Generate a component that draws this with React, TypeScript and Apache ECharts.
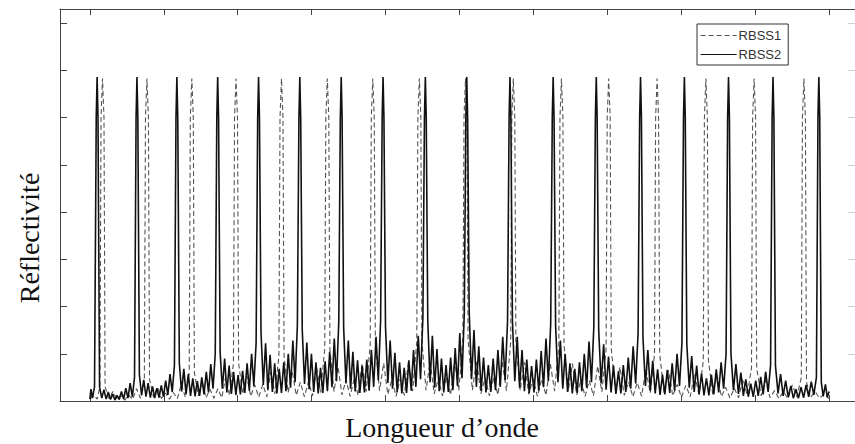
import React, { useEffect, useRef } from "react";
import * as echarts from "echarts";

// x axis: arbitrary wavelength units, ticks every 10 units (no labels shown)
const xTickValues = [0, 10, 20, 30, 40, 50, 60, 70, 80, 90, 100];
const yTickValues = [0.1, 0.2, 0.3, 0.4, 0.5, 0.6, 0.7, 0.8];
const X_MIN = -4.04;
const X_MAX = 103.5;
const Y_MIN = 0;
const Y_MAX = 0.83;

const seriesNames = ["RBSS1", "RBSS2"];

// RBSS2 (solid) Bragg peaks: shoulder, top, shoulder  [wavelength, reflectivity]
const rbss2Peaks: number[][] = [
  [0.86, 0.6], [0.98, 0.686], [1.1, 0.6],
  [6.25, 0.6], [6.37, 0.686], [6.49, 0.6],
  [11.65, 0.6], [11.77, 0.686], [11.89, 0.6],
  [17.17, 0.6], [17.29, 0.686], [17.41, 0.6],
  [22.7, 0.6], [22.82, 0.686], [22.94, 0.6],
  [28.28, 0.6], [28.4, 0.686], [28.52, 0.6],
  [33.88, 0.6], [34.0, 0.686], [34.12, 0.6],
  [39.54, 0.6], [39.66, 0.686], [39.78, 0.6],
  [45.26, 0.6], [45.38, 0.686], [45.5, 0.6],
  [50.86, 0.6], [50.98, 0.686], [51.1, 0.6],
  [56.71, 0.6], [56.83, 0.686], [56.95, 0.6],
  [62.55, 0.6], [62.67, 0.686], [62.79, 0.6],
  [68.38, 0.6], [68.5, 0.686], [68.62, 0.6],
  [74.37, 0.6], [74.49, 0.686], [74.61, 0.6],
  [80.3, 0.6], [80.42, 0.686], [80.54, 0.6],
  [86.27, 0.6], [86.39, 0.686], [86.51, 0.6],
  [92.29, 0.6], [92.41, 0.686], [92.53, 0.6],
  [98.49, 0.6], [98.61, 0.686], [98.73, 0.6],
];

// RBSS2 side-lobe floor between peaks
const rbss2Floor: number[][] = [
  [0.0, 0.004], [0.15, 0.025], [0.35, 0.006], [0.63, 0.03],
  [1.31, 0.03], [1.61, 0.006], [1.9, 0.024], [2.2, 0.004], [2.49, 0.019], [2.79, 0.003], [3.09, 0.015], [3.38, 0.002], [3.68, 0.012], [3.97, 0.003], [4.27, 0.02], [4.57, 0.004], [4.86, 0.027], [5.16, 0.006], [5.45, 0.038], [5.75, 0.009], [6.04, 0.05],
  [6.7, 0.055], [7.0, 0.012], [7.29, 0.045], [7.59, 0.009], [7.88, 0.038], [8.18, 0.007], [8.48, 0.031], [8.77, 0.006], [9.07, 0.027], [9.36, 0.007], [9.66, 0.033], [9.96, 0.009], [10.25, 0.043], [10.55, 0.013], [10.84, 0.057], [11.14, 0.019], [11.44, 0.076],
  [12.1, 0.08], [12.4, 0.02], [12.71, 0.068], [13.01, 0.014], [13.32, 0.057], [13.62, 0.011], [13.92, 0.048], [14.23, 0.01], [14.53, 0.042], [14.84, 0.011], [15.14, 0.05], [15.44, 0.014], [15.75, 0.062], [16.05, 0.018], [16.36, 0.078], [16.66, 0.026], [16.96, 0.1],
  [17.62, 0.104], [17.92, 0.026], [18.23, 0.09], [18.53, 0.018], [18.84, 0.075], [19.14, 0.015], [19.44, 0.062], [19.75, 0.013], [20.05, 0.055], [20.36, 0.014], [20.66, 0.064], [20.96, 0.017], [21.27, 0.08], [21.57, 0.022], [21.88, 0.1], [22.18, 0.032], [22.49, 0.123],
  [23.15, 0.146], [23.46, 0.034], [23.77, 0.122], [24.07, 0.024], [24.38, 0.098], [24.69, 0.019], [25.0, 0.08], [25.3, 0.016], [25.61, 0.068], [25.92, 0.017], [26.23, 0.082], [26.53, 0.021], [26.84, 0.1], [27.15, 0.028], [27.46, 0.128], [27.76, 0.04], [28.07, 0.16],
  [28.73, 0.15], [29.04, 0.036], [29.35, 0.124], [29.66, 0.025], [29.97, 0.1], [30.28, 0.019], [30.58, 0.082], [30.89, 0.016], [31.2, 0.07], [31.51, 0.017], [31.82, 0.084], [32.13, 0.021], [32.44, 0.104], [32.75, 0.029], [33.06, 0.132], [33.36, 0.042], [33.67, 0.167],
  [34.33, 0.155], [34.64, 0.037], [34.96, 0.128], [35.27, 0.026], [35.58, 0.104], [35.89, 0.02], [36.21, 0.086], [36.52, 0.017], [36.83, 0.074], [37.14, 0.018], [37.46, 0.088], [37.77, 0.022], [38.08, 0.108], [38.39, 0.03], [38.71, 0.136], [39.02, 0.044], [39.33, 0.17],
  [39.99, 0.157], [40.31, 0.038], [40.62, 0.128], [40.94, 0.026], [41.26, 0.102], [41.57, 0.019], [41.89, 0.082], [42.2, 0.016], [42.52, 0.07], [42.84, 0.017], [43.15, 0.086], [43.47, 0.022], [43.78, 0.108], [44.1, 0.03], [44.42, 0.138], [44.73, 0.046], [45.05, 0.178],
  [45.71, 0.17], [46.02, 0.04], [46.33, 0.138], [46.64, 0.028], [46.95, 0.11], [47.26, 0.021], [47.56, 0.09], [47.87, 0.018], [48.18, 0.076], [48.49, 0.019], [48.8, 0.092], [49.11, 0.023], [49.42, 0.112], [49.73, 0.032], [50.04, 0.144], [50.34, 0.048], [50.65, 0.186],
  [51.31, 0.19], [51.63, 0.046], [51.96, 0.15], [52.28, 0.03], [52.61, 0.116], [52.93, 0.022], [53.25, 0.092], [53.58, 0.018], [53.9, 0.076], [54.23, 0.019], [54.55, 0.09], [54.87, 0.023], [55.2, 0.108], [55.52, 0.03], [55.85, 0.136], [56.17, 0.044], [56.5, 0.17],
  [57.16, 0.17], [57.48, 0.042], [57.81, 0.136], [58.13, 0.028], [58.46, 0.108], [58.78, 0.021], [59.1, 0.088], [59.43, 0.017], [59.75, 0.074], [60.08, 0.018], [60.4, 0.088], [60.72, 0.022], [61.05, 0.106], [61.37, 0.029], [61.7, 0.132], [62.02, 0.042], [62.34, 0.165],
  [63.0, 0.16], [63.32, 0.04], [63.65, 0.128], [63.97, 0.026], [64.29, 0.1], [64.62, 0.019], [64.94, 0.08], [65.26, 0.016], [65.59, 0.068], [65.91, 0.017], [66.23, 0.082], [66.55, 0.021], [66.88, 0.1], [67.2, 0.028], [67.52, 0.126], [67.85, 0.04], [68.17, 0.157],
  [68.83, 0.15], [69.16, 0.037], [69.5, 0.12], [69.83, 0.024], [70.16, 0.094], [70.5, 0.018], [70.83, 0.075], [71.16, 0.015], [71.5, 0.063], [71.83, 0.016], [72.16, 0.076], [72.49, 0.019], [72.83, 0.092], [73.16, 0.026], [73.49, 0.116], [73.83, 0.037], [74.16, 0.144],
  [74.82, 0.133], [75.15, 0.032], [75.48, 0.108], [75.81, 0.022], [76.14, 0.085], [76.47, 0.016], [76.8, 0.067], [77.13, 0.013], [77.46, 0.056], [77.78, 0.014], [78.11, 0.066], [78.44, 0.017], [78.77, 0.08], [79.1, 0.022], [79.43, 0.1], [79.76, 0.032], [80.09, 0.123],
  [80.75, 0.12], [81.08, 0.028], [81.41, 0.095], [81.75, 0.019], [82.08, 0.075], [82.41, 0.014], [82.74, 0.058], [83.07, 0.012], [83.4, 0.048], [83.74, 0.012], [84.07, 0.056], [84.4, 0.014], [84.73, 0.067], [85.06, 0.018], [85.39, 0.082], [85.73, 0.026], [86.06, 0.1],
  [86.72, 0.1], [87.06, 0.023], [87.39, 0.078], [87.73, 0.015], [88.06, 0.06], [88.4, 0.011], [88.73, 0.046], [89.07, 0.009], [89.4, 0.037], [89.74, 0.009], [90.07, 0.043], [90.41, 0.011], [90.74, 0.051], [91.08, 0.014], [91.41, 0.062], [91.75, 0.019], [92.08, 0.076],
  [92.74, 0.075], [93.09, 0.016], [93.43, 0.057], [93.78, 0.011], [94.12, 0.043], [94.47, 0.008], [94.82, 0.032], [95.16, 0.006], [95.51, 0.025], [95.85, 0.006], [96.2, 0.029], [96.55, 0.007], [96.89, 0.034], [97.24, 0.009], [97.58, 0.041], [97.93, 0.013], [98.28, 0.05],
  [98.94, 0.04], [99.2, 0.01], [99.5, 0.035], [99.75, 0.008], [100.0, 0.02],
];

// RBSS1 (dashed) Bragg peaks: shoulder, top, shoulder
const rbss1Peaks: number[][] = [
  [1.51, 0.6], [1.71, 0.683], [1.91, 0.6],
  [7.52, 0.6], [7.72, 0.683], [7.92, 0.6],
  [13.59, 0.6], [13.79, 0.683], [13.99, 0.6],
  [19.57, 0.6], [19.77, 0.683], [19.97, 0.6],
  [25.72, 0.6], [25.92, 0.683], [26.12, 0.6],
  [31.92, 0.6], [32.12, 0.683], [32.32, 0.6],
  [38.07, 0.6], [38.27, 0.683], [38.47, 0.6],
  [44.37, 0.6], [44.57, 0.683], [44.77, 0.6],
  [50.61, 0.6], [50.81, 0.683], [51.01, 0.6],
  [57.08, 0.6], [57.28, 0.683], [57.48, 0.6],
  [63.59, 0.6], [63.79, 0.683], [63.99, 0.6],
  [69.98, 0.6], [70.18, 0.683], [70.38, 0.6],
  [76.53, 0.6], [76.73, 0.683], [76.93, 0.6],
  [83.13, 0.6], [83.33, 0.683], [83.53, 0.6],
  [89.65, 0.6], [89.85, 0.683], [90.05, 0.6],
  [96.39, 0.6], [96.59, 0.683], [96.79, 0.6],
];

// RBSS1 side-lobe floor between peaks
const rbss1Floor: number[][] = [
  [0.0, 0.004], [0.6, 0.012], [1.0, 0.004], [1.36, 0.03],
  [2.06, 0.03], [2.59, 0.005], [3.12, 0.02], [3.65, 0.003], [4.18, 0.012], [4.72, 0.002], [5.25, 0.013], [5.78, 0.003], [6.31, 0.026], [6.84, 0.006], [7.37, 0.045],
  [8.07, 0.045], [8.61, 0.008], [9.14, 0.03], [9.68, 0.005], [10.22, 0.017], [10.76, 0.004], [11.29, 0.018], [11.83, 0.005], [12.37, 0.036], [12.9, 0.009], [13.44, 0.06],
  [14.14, 0.06], [14.67, 0.011], [15.2, 0.04], [15.72, 0.007], [16.25, 0.025], [16.78, 0.006], [17.31, 0.026], [17.84, 0.007], [18.36, 0.05], [18.89, 0.012], [19.42, 0.08],
  [20.12, 0.08], [20.67, 0.015], [21.21, 0.054], [21.76, 0.01], [22.3, 0.034], [22.85, 0.008], [23.39, 0.035], [23.94, 0.009], [24.48, 0.062], [25.03, 0.015], [25.57, 0.095],
  [26.27, 0.095], [26.82, 0.018], [27.37, 0.064], [27.92, 0.012], [28.47, 0.04], [29.02, 0.009], [29.57, 0.041], [30.12, 0.011], [30.67, 0.072], [31.22, 0.018], [31.77, 0.11],
  [32.47, 0.11], [33.02, 0.02], [33.56, 0.073], [34.11, 0.013], [34.65, 0.045], [35.2, 0.01], [35.74, 0.046], [36.29, 0.012], [36.83, 0.08], [37.38, 0.02], [37.92, 0.12],
  [38.62, 0.12], [39.18, 0.022], [39.74, 0.08], [40.3, 0.014], [40.86, 0.046], [41.42, 0.01], [41.98, 0.047], [42.54, 0.012], [43.1, 0.083], [43.66, 0.021], [44.22, 0.125],
  [44.92, 0.125], [45.47, 0.023], [46.03, 0.083], [46.58, 0.015], [47.14, 0.048], [47.69, 0.011], [48.24, 0.049], [48.8, 0.013], [49.35, 0.086], [49.91, 0.022], [50.46, 0.13],
  [51.16, 0.13], [51.74, 0.023], [52.31, 0.086], [52.89, 0.015], [53.47, 0.049], [54.05, 0.011], [54.62, 0.048], [55.2, 0.013], [55.78, 0.083], [56.35, 0.022], [56.93, 0.125],
  [57.63, 0.125], [58.21, 0.022], [58.79, 0.082], [59.37, 0.014], [59.95, 0.047], [60.54, 0.01], [61.12, 0.046], [61.7, 0.012], [62.28, 0.08], [62.86, 0.021], [63.44, 0.12],
  [64.14, 0.12], [64.71, 0.021], [65.28, 0.079], [65.85, 0.013], [66.42, 0.044], [66.99, 0.01], [67.55, 0.043], [68.12, 0.011], [68.69, 0.074], [69.26, 0.019], [69.83, 0.11],
  [70.53, 0.11], [71.12, 0.019], [71.7, 0.072], [72.29, 0.012], [72.87, 0.04], [73.46, 0.009], [74.04, 0.039], [74.63, 0.01], [75.21, 0.067], [75.8, 0.017], [76.38, 0.1],
  [77.08, 0.1], [77.67, 0.017], [78.26, 0.065], [78.85, 0.011], [79.44, 0.035], [80.03, 0.008], [80.62, 0.033], [81.21, 0.009], [81.8, 0.057], [82.39, 0.014], [82.98, 0.085],
  [83.68, 0.085], [84.26, 0.014], [84.84, 0.055], [85.43, 0.009], [86.01, 0.029], [86.59, 0.006], [87.17, 0.027], [87.75, 0.007], [88.34, 0.047], [88.92, 0.012], [89.5, 0.07],
  [90.2, 0.07], [90.8, 0.011], [91.41, 0.044], [92.01, 0.007], [92.62, 0.022], [93.22, 0.005], [93.82, 0.02], [94.43, 0.005], [95.03, 0.034], [95.64, 0.009], [96.24, 0.05],
  [96.94, 0.04], [97.5, 0.008], [98.1, 0.02], [98.7, 0.006], [99.3, 0.015], [100.0, 0.005],
];

function merge(peaks: number[][], floor: number[][]): number[][] {
  return [...peaks, ...floor].sort((a, b) => a[0] - b[0]);
}

const AXIS_COLOR = "#444";

function xAxisDef(position: "bottom" | "top") {
  return {
    type: "value",
    position,
    min: X_MIN,
    max: X_MAX,
    axisLine: { show: true, onZero: false, lineStyle: { color: AXIS_COLOR, width: 1 } },
    axisTick: { show: true, inside: true, length: 6, customValues: xTickValues, lineStyle: { color: AXIS_COLOR, width: 1 } },
    axisLabel: { show: false },
    splitLine: { show: false },
  };
}

function yAxisDef(position: "left" | "right", color: string) {
  return {
    type: "value",
    position,
    min: Y_MIN,
    max: Y_MAX,
    interval: 0.1,
    axisLine: { show: true, onZero: false, lineStyle: { color, width: 1 } },
    axisTick: { show: true, inside: true, length: 7, customValues: yTickValues, lineStyle: { color, width: 1 } },
    axisLabel: { show: false },
    splitLine: { show: false },
  };
}

export default function App() {
  const ref = useRef<HTMLDivElement>(null);
  useEffect(() => {
    if (!ref.current) return;
    const chart = echarts.init(ref.current, undefined, { renderer: "svg" });
    chart.setOption({
      animation: false,
      backgroundColor: "#ffffff",
      grid: { left: 60, top: 9, right: -3, bottom: 43, containLabel: false },
      xAxis: [xAxisDef("bottom"), xAxisDef("top")],
      yAxis: [yAxisDef("left", AXIS_COLOR), yAxisDef("right", "#d0d0d0")],
      legend: {
        data: seriesNames,
        orient: "vertical",
        left: 697,
        top: 24,
        itemWidth: 36,
        itemHeight: 14,
        itemGap: 6,
        padding: [5, 7, 4, 3],
        borderColor: "#333",
        borderWidth: 1,
        borderRadius: 0,
        backgroundColor: "#ffffff",
        itemStyle: { opacity: 0, borderWidth: 0 },
        lineStyle: { width: 1.2 },
        textStyle: { fontFamily: "'Liberation Sans', Arial, sans-serif", fontSize: 13, color: "#333", padding: [0, 0, 0, -3] },
      },
      graphic: [
        {
          type: "text",
          x: 29,
          y: 238,
          rotation: Math.PI / 2,
          style: {
            text: "Réflectivité",
            fontFamily: "'Liberation Serif', 'Times New Roman', serif",
            fontSize: 28,
            fill: "#111",
            align: "center",
            verticalAlign: "middle",
          },
        },
        {
          type: "text",
          x: 442,
          y: 427,
          style: {
            text: "Longueur d’onde",
            fontFamily: "'Liberation Serif', 'Times New Roman', serif",
            fontSize: 28,
            fill: "#111",
            align: "center",
            verticalAlign: "middle",
          },
        },
      ],
      series: [
        {
          name: "RBSS1",
          type: "line",
          data: merge(rbss1Peaks, rbss1Floor),
          symbol: "none",
          showSymbol: false,
          lineStyle: { color: "#555", width: 1.1, type: [5, 3] },
          itemStyle: { color: "#555" },
          z: 2,
        },
        {
          name: "RBSS2",
          type: "line",
          data: merge(rbss2Peaks, rbss2Floor),
          symbol: "none",
          showSymbol: false,
          lineStyle: { color: "#111", width: 1.6, type: "solid" },
          itemStyle: { color: "#111" },
          z: 3,
        },
      ],
    });
    return () => chart.dispose();
  }, []);
  return (
    <div
      ref={ref}
      style={{ position: "absolute", left: 0, top: 0, width: 855, height: 444 }}
    />
  );
}
